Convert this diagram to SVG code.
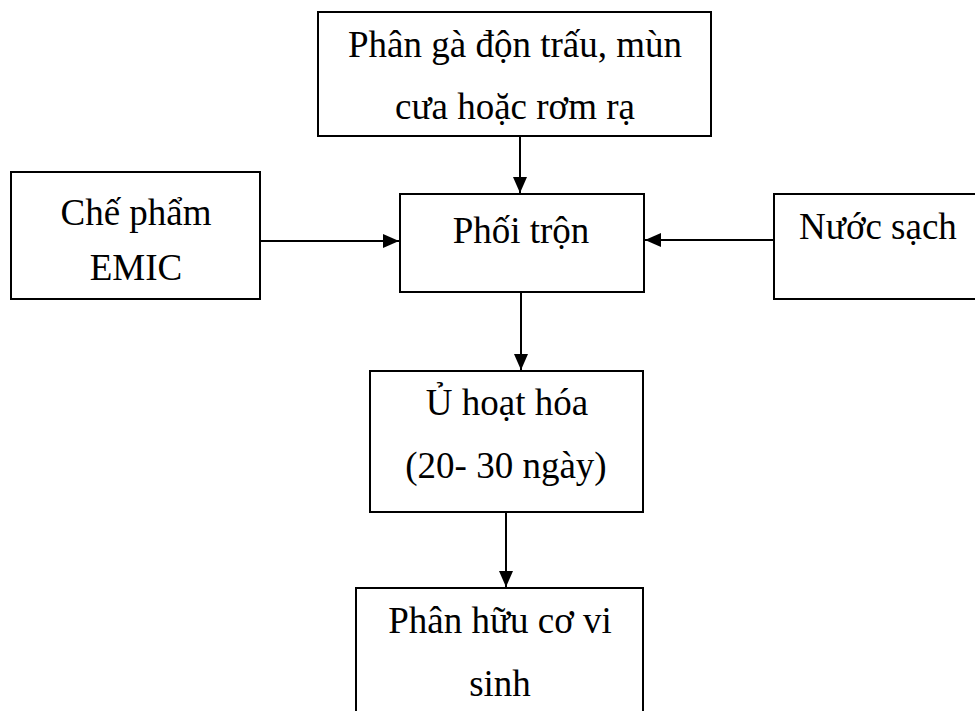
<svg xmlns="http://www.w3.org/2000/svg" width="975" height="711" viewBox="0 0 975 711">
<style>
.box{fill:#fff;stroke:#000;stroke-width:2}
.t{font-family:"Liberation Serif","Times New Roman",serif;font-size:37px;fill:#000;text-anchor:middle}
.c{stroke:#000;stroke-width:2;fill:none;marker-end:url(#ah)}
</style>
<defs>
<marker id="ah" markerUnits="userSpaceOnUse" markerWidth="16" markerHeight="14" viewBox="0 0 16 14" refX="16" refY="7" orient="auto">
<path d="M0,0 L16,7 L0,14 Z" fill="#000"/>
</marker>
</defs>
<rect width="975" height="711" fill="#fff"/>
<g id="connectors">
<line class="c" x1="520" y1="136" x2="520" y2="193"/>
<line class="c" x1="260" y1="241" x2="399" y2="241"/>
<line class="c" x1="774" y1="240" x2="645" y2="240"/>
<line class="c" x1="521" y1="292" x2="521" y2="370"/>
<line class="c" x1="506" y1="512" x2="506" y2="587"/>
</g>
<g id="n1">
<rect class="box" x="318" y="12" width="393" height="124"/>
<text class="t" x="515" y="57">Phân gà độn trấu, mùn</text>
<text class="t" x="515" y="119">cưa hoặc rơm rạ</text>
</g>
<g id="n2">
<rect class="box" x="400" y="194" width="244" height="98"/>
<text class="t" x="521" y="243">Phối trộn</text>
</g>
<g id="n3">
<rect class="box" x="11" y="172" width="249" height="127"/>
<text class="t" x="136" y="225">Chế phẩm</text>
<text class="t" x="136" y="280">EMIC</text>
</g>
<g id="n4">
<rect class="box" x="774" y="194" width="220" height="105"/>
<text class="t" x="878" y="239">Nước sạch</text>
</g>
<g id="n5">
<rect class="box" x="370" y="371" width="273" height="141"/>
<text class="t" x="507" y="415">Ủ hoạt hóa</text>
<text class="t" x="506" y="478">(20- 30 ngày)</text>
</g>
<g id="n6">
<rect class="box" x="356" y="588" width="287" height="200"/>
<text class="t" x="500" y="633">Phân hữu cơ vi</text>
<text class="t" x="500" y="696">sinh</text>
</g>
</svg>
